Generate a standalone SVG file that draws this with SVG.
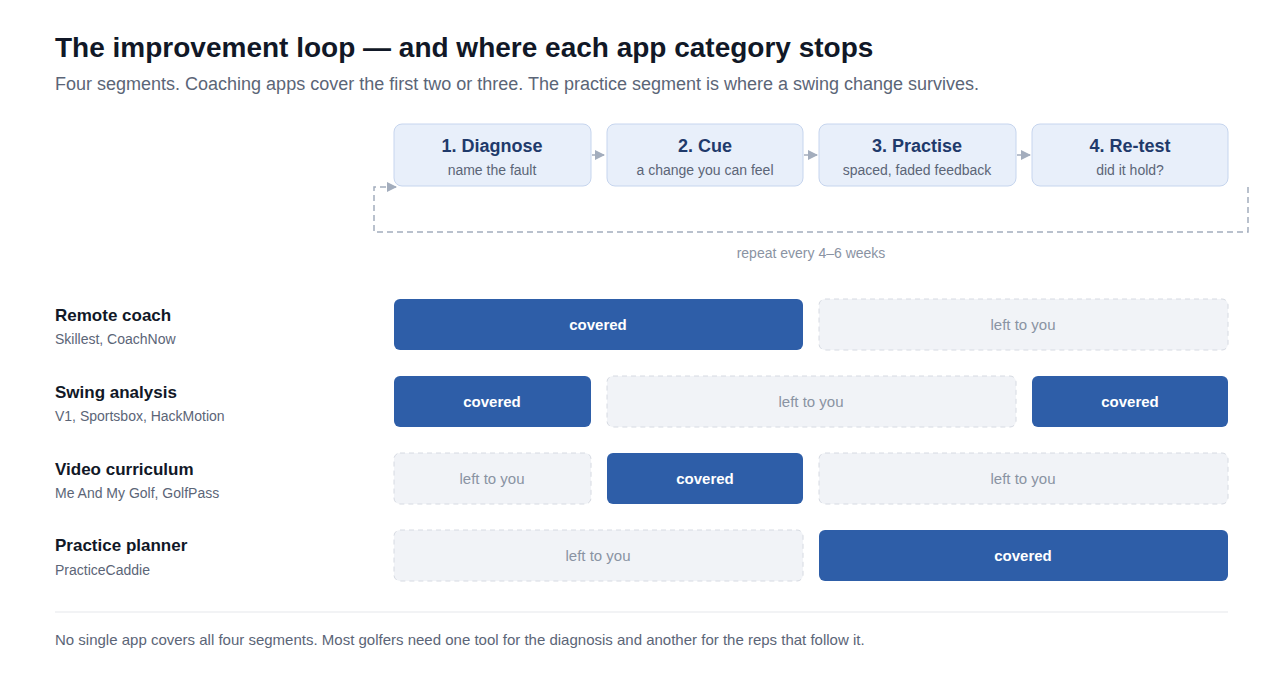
<svg xmlns="http://www.w3.org/2000/svg" width="1280" height="689" viewBox="0 0 1280 689">
<style>
text{font-family:"Helvetica Neue","Liberation Sans",Arial,sans-serif}
.step{fill:#e8effa;stroke:#c6d5ee;stroke-width:1}
.st{font-size:18px;font-weight:bold;fill:#1f3a6b;text-anchor:middle}
.ss{font-size:14px;fill:#5b6577;text-anchor:middle}
.cov{fill:#2e5ea8}
.left{fill:#f1f3f7;stroke:#d6dae2;stroke-dasharray:5 4}
.ct{font-size:15px;font-weight:bold;fill:#fff;text-anchor:middle}
.lt{font-size:15px;fill:#8a93a3;text-anchor:middle}
.rn{font-size:17px;font-weight:bold;fill:#111827}
.rs{font-size:14px;fill:#5b6577}
</style>
<defs><marker id="ah" markerWidth="10" markerHeight="10" refX="9" refY="5" orient="auto" markerUnits="userSpaceOnUse"><path d="M0,0L10,5L0,10z" fill="#a3adbd"/></marker></defs>
<rect width="1280" height="689" fill="#fff"/>
<text x="55" y="57" font-size="28" font-weight="bold" fill="#111827">The improvement loop — and where each app category stops</text>
<text x="55" y="90" font-size="18" fill="#5b6577">Four segments. Coaching apps cover the first two or three. The practice segment is where a swing change survives.</text>
<g id="connectors" stroke="#a3adbd" stroke-width="1.5" fill="none">
<path d="M592,155H604" marker-end="url(#ah)"/>
<path d="M804,155H817" marker-end="url(#ah)"/>
<path d="M1017,155H1030" marker-end="url(#ah)"/>
<path d="M1248,187V232H374V187H396" stroke-dasharray="6 4" marker-end="url(#ah)"/>
</g>
<text x="811" y="258" font-size="14" fill="#8a93a3" text-anchor="middle">repeat every 4–6 weeks</text>
<g id="s1"><rect class="step" x="394" y="124" width="197" height="62" rx="8"/><text class="st" x="492" y="152">1. Diagnose</text><text class="ss" x="492" y="175">name the fault</text></g>
<g id="s2"><rect class="step" x="607" y="124" width="196" height="62" rx="8"/><text class="st" x="705" y="152">2. Cue</text><text class="ss" x="705" y="175">a change you can feel</text></g>
<g id="s3"><rect class="step" x="819" y="124" width="197" height="62" rx="8"/><text class="st" x="917" y="152">3. Practise</text><text class="ss" x="917" y="175">spaced, faded feedback</text></g>
<g id="s4"><rect class="step" x="1032" y="124" width="196" height="62" rx="8"/><text class="st" x="1130" y="152">4. Re-test</text><text class="ss" x="1130" y="175">did it hold?</text></g>
<g id="r1"><text class="rn" x="55" y="321">Remote coach</text><text class="rs" x="55" y="344">Skillest, CoachNow</text>
<rect class="cov" x="394" y="299" width="409" height="51" rx="6"/><text class="ct" x="598" y="330">covered</text>
<rect class="left" x="819" y="299" width="409" height="51" rx="6"/><text class="lt" x="1023" y="330">left to you</text></g>
<g id="r2"><text class="rn" x="55" y="398">Swing analysis</text><text class="rs" x="55" y="421">V1, Sportsbox, HackMotion</text>
<rect class="cov" x="394" y="376" width="197" height="51" rx="6"/><text class="ct" x="492" y="407">covered</text>
<rect class="left" x="607" y="376" width="409" height="51" rx="6"/><text class="lt" x="811" y="407">left to you</text>
<rect class="cov" x="1032" y="376" width="196" height="51" rx="6"/><text class="ct" x="1130" y="407">covered</text></g>
<g id="r3"><text class="rn" x="55" y="475">Video curriculum</text><text class="rs" x="55" y="498">Me And My Golf, GolfPass</text>
<rect class="left" x="394" y="453" width="197" height="51" rx="6"/><text class="lt" x="492" y="484">left to you</text>
<rect class="cov" x="607" y="453" width="196" height="51" rx="6"/><text class="ct" x="705" y="484">covered</text>
<rect class="left" x="819" y="453" width="409" height="51" rx="6"/><text class="lt" x="1023" y="484">left to you</text></g>
<g id="r4"><text class="rn" x="55" y="551">Practice planner</text><text class="rs" x="55" y="575">PracticeCaddie</text>
<rect class="left" x="394" y="530" width="409" height="51" rx="6"/><text class="lt" x="598" y="561">left to you</text>
<rect class="cov" x="819" y="530" width="409" height="51" rx="6"/><text class="ct" x="1023" y="561">covered</text></g>
<line x1="55" y1="612" x2="1228" y2="612" stroke="#e5e7eb"/>
<text x="55" y="645" font-size="15" fill="#5b6577">No single app covers all four segments. Most golfers need one tool for the diagnosis and another for the reps that follow it.</text>
</svg>
